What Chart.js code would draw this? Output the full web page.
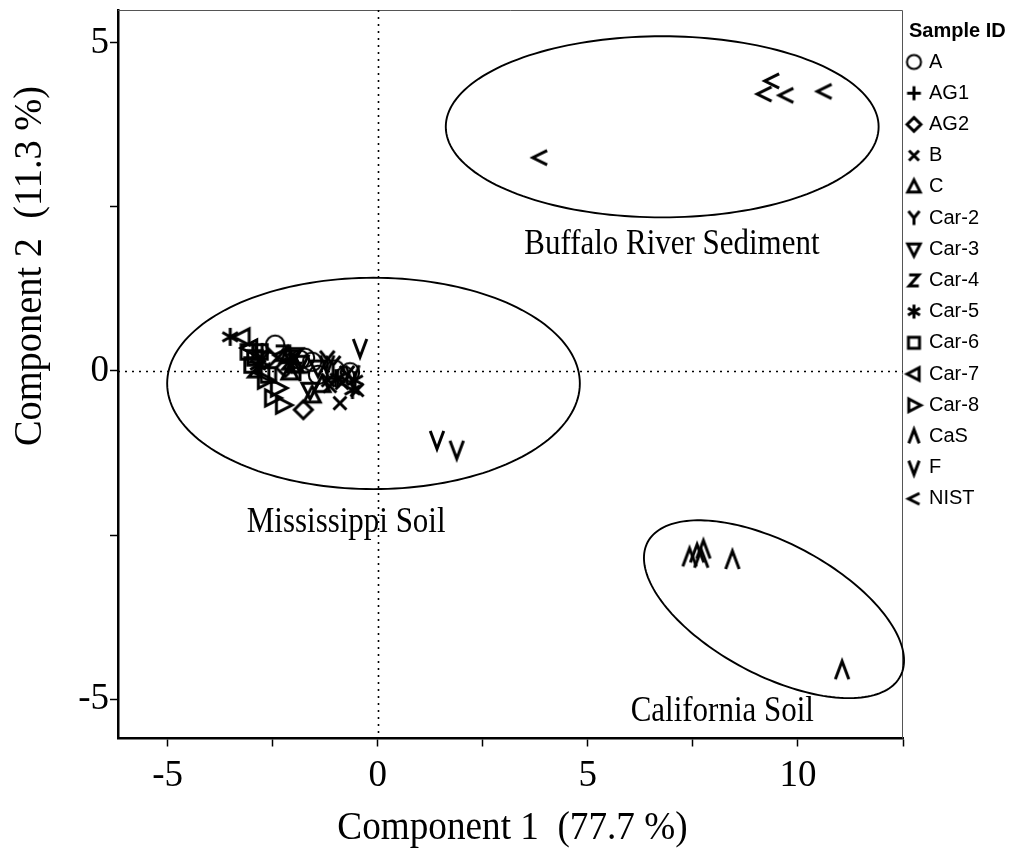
<!DOCTYPE html>
<html><head><meta charset="utf-8">
<script src="https://cdn.jsdelivr.net/npm/chart.js@4.4.1/dist/chart.umd.min.js"></script>
<style>html,body{margin:0;padding:0;background:#fff}#wrap{width:1016px;height:850px}</style>
</head><body><div id="wrap"><canvas id="c" width="1016" height="850"></canvas></div>
<script>
// ---------- DATA ----------
const sampleIds = ['A','AG1','AG2','B','C','Car-2','Car-3','Car-4','Car-5','Car-6','Car-7','Car-8','CaS','F','NIST'];
const markerKinds = ['circle','plus','diamond','cross','triUp','ygl','triDown','zgl','star','square','triLeft','triRight','caret','vee','less'];
const ptsA    = [[-2.44,0.40],[-1.73,0.20],[-1.56,0.14],[-1.02,0.02],[-0.78,-0.08],[-0.66,-0.02],[-1.42,-0.06],[-1.85,0.17]];
const ptsAG1  = [[-2.75,0.29],[-2.09,0.14],[-1.85,-0.02],[-1.00,-0.11]];
const ptsAG2  = [[-1.77,-0.59],[-2.60,0.20],[-2.20,0.05]];
const ptsB    = [[-0.90,-0.49],[-0.49,-0.29],[-0.85,-0.18],[-1.18,-0.14],[-1.14,-0.23]];
const ptsC    = [[-2.09,-0.02],[-1.97,0.09],[-1.56,-0.37],[-2.13,0.23],[-1.33,-0.21]];
const ptsCar2 = [[-1.20,0.17],[-1.06,0.09],[-2.75,0.17],[-0.73,-0.06]];
const ptsCar3 = [[-2.04,0.20],[-1.61,-0.29],[-1.85,0.12],[-1.42,0.05]];
const ptsCar4 = [[-2.11,0.14],[-1.94,0.23],[-2.92,0.02],[-2.28,0.27]];
const ptsCar5 = [[-3.51,0.52],[-0.54,-0.14],[-0.60,-0.29],[-2.85,0.09],[-0.95,-0.11]];
const ptsCar6 = [[-3.08,0.29],[-2.92,0.20],[-2.80,0.29],[-2.99,0.09],[-2.60,-0.06]];
const ptsCar7 = [[-3.22,0.52],[-2.75,-0.02],[-2.25,0.24],[-3.04,0.35]];
const ptsCar8 = [[-2.51,-0.41],[-2.25,-0.52],[-2.68,-0.14],[-2.37,-0.26]];
const ptsCaS  = [[7.42,-2.84],[7.60,-2.78],[7.75,-2.72],[7.70,-2.86],[8.44,-2.88],[11.05,-4.56]];
const ptsF    = [[-0.42,0.35],[1.41,-1.05],[1.88,-1.20],[-1.20,0.10],[-0.60,-0.05]];
const ptsNIST = [[3.86,3.25],[9.38,4.42],[9.20,4.22],[9.72,4.20],[10.63,4.26]];
const allSeries = [ptsA,ptsAG1,ptsAG2,ptsB,ptsC,ptsCar2,ptsCar3,ptsCar4,ptsCar5,ptsCar6,ptsCar7,ptsCar8,ptsCaS,ptsF,ptsNIST];

const xTitle = 'Component 1  (77.7 %)';
const yTitle = 'Component 2  (11.3 %)';
const legendTitle = 'Sample ID';
// cluster ellipses (data units): centre, half-axis vectors u and v
const groupNames = ['Buffalo River Sediment','Mississippi Soil','California Soil'];
const groupCentres = [[6.77,3.72],[-0.10,-0.19],[9.43,-3.63]];
const groupU = [[5.15,0],[4.91,0],[3.005,-1.023]];
const groupV = [[0,1.38],[0,1.61],[-0.738,-0.888]];
const groupLabelPos = [[7.0,1.92],[-0.75,-2.31],[8.2,-5.19]];

// ---------- MARKERS ----------
function makeMarker(kind, size, lw){
  const c = document.createElement('canvas');
  c.width = size; c.height = size;
  const g = c.getContext('2d');
  const m = size/2, s = size*0.30;
  g.strokeStyle = '#000'; g.lineWidth = lw; g.lineJoin='miter'; g.lineCap='butt';
  g.translate(m,m);
  g.beginPath();
  switch(kind){
    case 'circle': g.lineWidth = lw*0.7; g.arc(0,0,s*1.02,0,Math.PI*2); break;
    case 'plus': g.moveTo(-s,0);g.lineTo(s,0);g.moveTo(0,-s);g.lineTo(0,s); break;
    case 'diamond': g.moveTo(0,-s);g.lineTo(s,0);g.lineTo(0,s);g.lineTo(-s,0);g.closePath(); break;
    case 'cross': {const k=s*0.72; g.moveTo(-k,-k);g.lineTo(k,k);g.moveTo(k,-k);g.lineTo(-k,k);} break;
    case 'triUp': g.moveTo(0,-s);g.lineTo(s*0.9,s*0.75);g.lineTo(-s*0.9,s*0.75);g.closePath(); break;
    case 'triDown': g.moveTo(0,s);g.lineTo(s*0.9,-s*0.75);g.lineTo(-s*0.9,-s*0.75);g.closePath(); break;
    case 'triLeft': g.moveTo(-s,0);g.lineTo(s*0.75,-s*0.9);g.lineTo(s*0.75,s*0.9);g.closePath(); break;
    case 'triRight': g.moveTo(s,0);g.lineTo(-s*0.75,-s*0.9);g.lineTo(-s*0.75,s*0.9);g.closePath(); break;
    case 'square': g.rect(-s*0.8,-s*0.8,s*1.6,s*1.6); break;
    case 'ygl': g.moveTo(-s*0.8,-s);g.lineTo(0,0);g.lineTo(s*0.8,-s);g.moveTo(0,0);g.lineTo(0,s); break;
    case 'zgl': g.moveTo(-s*0.7,-s*0.8);g.lineTo(s*0.7,-s*0.8);g.lineTo(-s*0.7,s*0.8);g.lineTo(s*0.7,s*0.8); break;
    case 'star': {g.moveTo(0,-s);g.lineTo(0,s);const a=Math.cos(Math.PI/6)*s,b=Math.sin(Math.PI/6)*s;g.moveTo(-a,-b);g.lineTo(a,b);g.moveTo(a,-b);g.lineTo(-a,b);} break;
    case 'caret': g.moveTo(-s*0.75,s);g.lineTo(0,-s);g.lineTo(s*0.75,s); break;
    case 'vee': g.moveTo(-s*0.75,-s);g.lineTo(0,s);g.lineTo(s*0.75,-s); break;
    case 'less': g.moveTo(s*0.8,-s*0.8);g.lineTo(-s*0.8,0);g.lineTo(s*0.8,s*0.8); break;
  }
  g.stroke();
  return c;
}
const plotMarkers = markerKinds.map(k => makeMarker(k, 30, 3.0));
const legendMarkers = markerKinds.map(k => makeMarker(k, 23, 3.0));

// ---------- HELPERS ----------
function squeezeText(ctx, text, x, y, font, sx, rot){
  ctx.save();
  ctx.translate(x,y);
  if(rot) ctx.rotate(rot);
  ctx.scale(sx,1);
  ctx.font = font; ctx.fillStyle='#000'; ctx.textAlign='center'; ctx.textBaseline='middle';
  ctx.fillText(text,0,0);
  ctx.restore();
}

const decor = {
  id:'decor',
  beforeDatasetsDraw(chart){
    const {ctx, chartArea:a, scales:{x,y}} = chart;
    ctx.save();
    // top/right frame
    ctx.strokeStyle='#555'; ctx.lineWidth=1;
    ctx.beginPath(); ctx.moveTo(a.left,a.top+0.5); ctx.lineTo(a.right-0.5,a.top+0.5); ctx.lineTo(a.right-0.5,a.bottom); ctx.stroke();
    // dotted zero lines
    ctx.strokeStyle='#000'; ctx.lineWidth=1.6; ctx.setLineDash([2,5]);
    const x0 = Math.round(x.getPixelForValue(0))+0.5, y0 = Math.round(y.getPixelForValue(0))+0.5;
    ctx.beginPath(); ctx.moveTo(x0,a.top); ctx.lineTo(x0,a.bottom); ctx.stroke();
    ctx.beginPath(); ctx.moveTo(a.left,y0); ctx.lineTo(a.right,y0); ctx.stroke();
    ctx.setLineDash([]);
    // ellipses
    ctx.lineWidth=1.9; ctx.strokeStyle='#000';
    groupCentres.forEach((c,i)=>{
      const u=groupU[i], v=groupV[i];
      ctx.beginPath();
      for(let k=0;k<=180;k++){
        const t=k/180*Math.PI*2;
        const px=x.getPixelForValue(c[0]+Math.cos(t)*u[0]+Math.sin(t)*v[0]);
        const py=y.getPixelForValue(c[1]+Math.cos(t)*u[1]+Math.sin(t)*v[1]);
        if(k===0) ctx.moveTo(px,py); else ctx.lineTo(px,py);
      }
      ctx.closePath(); ctx.stroke();
      squeezeText(ctx, groupNames[i], x.getPixelForValue(groupLabelPos[i][0]), y.getPixelForValue(groupLabelPos[i][1]), '36px "Liberation Serif"', 0.86);
    });
    ctx.restore();
  },
  afterDraw(chart){
    const {ctx, chartArea:a} = chart;
    // axis titles
    squeezeText(ctx, xTitle, (a.left+a.right)/2+2, 828, '40px "Liberation Serif"', 0.93);
    squeezeText(ctx, yTitle, 30, 266, '40px "Liberation Serif"', 0.96, -Math.PI/2);
    // legend
    ctx.save();
    ctx.fillStyle='#000'; ctx.textBaseline='middle'; ctx.textAlign='left';
    ctx.font='bold 20px "Liberation Sans"';
    ctx.fillText(legendTitle, 909, 31);
    ctx.font='20px "Liberation Sans"';
    sampleIds.forEach((id,i)=>{
      const yy = 62 + i*31.2;
      const m = legendMarkers[i];
      ctx.drawImage(m, 914-m.width/2, yy-m.height/2);
      ctx.fillText(id, 929, yy);
    });
    ctx.restore();
  }
};

const datasets = sampleIds.map((id,i)=>({
  label:id,
  data: allSeries[i].map(p=>({x:p[0], y:p[1]})),
  pointStyle: plotMarkers[i],
  pointRadius: 9, borderColor:'#000', backgroundColor:'#000'
}));

function keepQuarterSteps(scale){
  scale.ticks = scale.ticks.filter(t => Math.abs(t.value/2.5 - Math.round(t.value/2.5)) < 1e-6);
}
const tickLabel = v => (Math.abs(v/5 - Math.round(v/5)) < 1e-6 ? String(v) : '');
function zeroPad(s){ s.paddingTop = 0; s.paddingBottom = 0; s.paddingLeft = 0; s.paddingRight = 0; }

new Chart(document.getElementById('c'), {
  type:'scatter',
  data:{datasets},
  options:{
    responsive:false, animation:false, devicePixelRatio:1,
    events:[],
    layout:{padding:{top:10,right:113,left:0,bottom:0}, autoPadding:false},
    plugins:{legend:{display:false}, tooltip:{enabled:false}},
    scales:{
      x:{
        type:'linear', min:-6.18, max:12.5,
        afterBuildTicks: keepQuarterSteps,
        afterFit: s => { s.height = 111.5; zeroPad(s); },
        ticks:{stepSize:2.5, includeBounds:false, autoSkip:false, maxRotation:0, callback:tickLabel, color:'#000', padding:8,
               font:{family:'"Liberation Serif"', size:37}},
        grid:{display:true, drawOnChartArea:false, drawTicks:true, tickLength:8, tickColor:'#000', tickWidth:1.5},
        border:{display:true, color:'#000', width:2.5}
      },
      y:{
        type:'linear', min:-5.6, max:5.5,
        afterBuildTicks: keepQuarterSteps,
        afterFit: s => { s.width = 118; zeroPad(s); },
        ticks:{stepSize:2.5, includeBounds:false, autoSkip:false, callback:tickLabel, color:'#000', padding:1,
               font:{family:'"Liberation Serif"', size:37}},
        grid:{display:true, drawOnChartArea:false, drawTicks:true, tickLength:8, tickColor:'#000', tickWidth:1.5},
        border:{display:true, color:'#000', width:2.5}
      }
    }
  },
  plugins:[decor]
});
</script></body></html>
